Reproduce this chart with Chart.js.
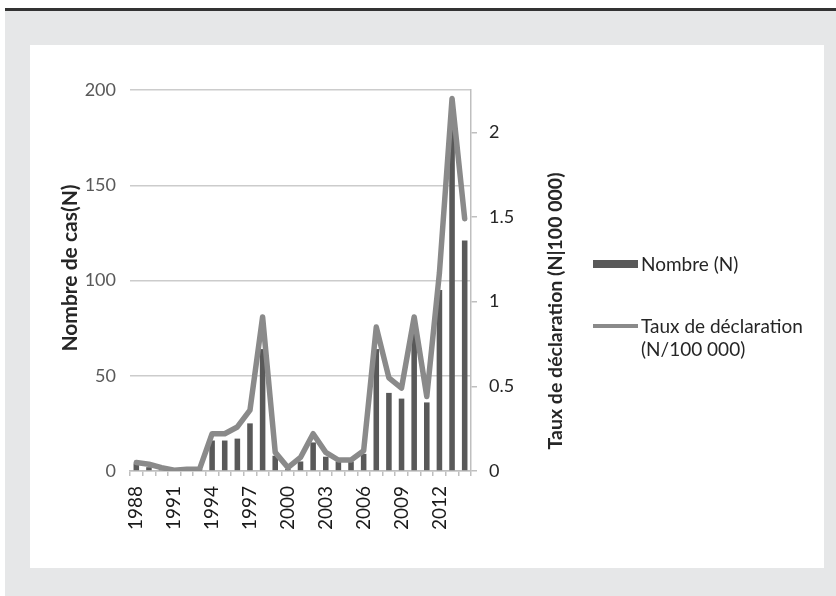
<!DOCTYPE html>
<html>
<head>
<meta charset="utf-8">
<script src="https://cdn.jsdelivr.net/npm/chart.js@4"></script>
<style>
  body { margin: 0; width: 836px; height: 596px; background: #fff; position: relative; overflow: hidden; font-family: Lato, sans-serif; }
  #topline { position: absolute; left: 5px; top: 8px; width: 831px; height: 3px; background: #333; }
  #frame { position: absolute; left: 5px; top: 11px; width: 831px; height: 585px; background: #e6e7e8; }
  #panel { position: absolute; left: 30px; top: 45px; width: 794px; height: 523px; background: #fff; }
  #legend { position: absolute; left: 593px; top: 250px; font-size: 19px; color: #262626; line-height: 23px; }
  .item { position: absolute; left: 0; white-space: nowrap; }
  .sw { position: absolute; left: 0; width: 45px; }
  .txt { position: absolute; left: 48px; }
</style>
</head>
<body>
<div id="topline"></div>
<div id="frame"></div>
<div id="panel"><canvas id="casChart" width="794" height="523"></canvas></div>
<div id="legend"></div>
<script>
// données
const years = ['1988','1989','1990','1991','1992','1993','1994','1995','1996','1997','1998','1999','2000',
  '2001','2002','2003','2004','2005','2006','2007','2008','2009','2010','2011','2012','2013','2014'];
const cases = [4, 2, 1, 0, 1, 1, 16, 16, 17, 25, 64, 8, 1,
  5, 15, 7.5, 5, 5, 9, 64, 41, 38, 72, 36, 95, 180, 121];
const rates = [0.05, 0.04, 0.02, 0.005, 0.01, 0.01, 0.22, 0.22, 0.26, 0.36, 0.91, 0.11, 0.02,
  0.08, 0.22, 0.11, 0.065, 0.065, 0.12, 0.85, 0.55, 0.49, 0.91, 0.44, 1.17, 2.2, 1.49];
const leftTicks = [0, 50, 100, 150, 200];
const rightTicks = [0, 0.5, 1, 1.5, 2];

const barLabel = 'Nombre (N)';
const lineLabel = ['Taux de déclaration', '(N/100 000)'];
const leftTitle = 'Nombre de cas(N)';
const rightTitle = 'Taux de déclaration (N|100 000)';

const barColor = '#595959';
const lineColor = '#8a8a8a';

// titres des axes (le titre de droite se lit de bas en haut)
const axisTitles = {
  id: 'axisTitles',
  afterDraw(chart) {
    const { ctx, chartArea } = chart;
    const draw = (text, size, x, y) => {
      ctx.save();
      ctx.font = 'bold ' + size + 'px Lato';
      ctx.fillStyle = '#262626';
      ctx.textAlign = 'center';
      ctx.textBaseline = 'middle';
      ctx.translate(x, y);
      ctx.rotate(-Math.PI / 2);
      ctx.fillText(text, 0, 0);
      ctx.restore();
    };
    draw(leftTitle, 21, 40, chartArea.top + 178);
    draw(rightTitle, 19.5, chartArea.right + 85, chartArea.top + 221);
  }
};

let casChart = null;
function createChart() {
  const ctx = document.getElementById('casChart');
  if (casChart) casChart.destroy();
  casChart = new Chart(ctx, {
    type: 'bar',
    data: {
      labels: years,
      datasets: [{
        type: 'line',
        label: lineLabel.join(' '),
        data: rates,
        yAxisID: 'y2',
        borderColor: lineColor,
        borderWidth: 5.5,
        pointRadius: 0,
        tension: 0,
        borderJoinStyle: 'round',
        borderCapStyle: 'round',
        order: 0
      }, {
        type: 'bar',
        label: barLabel,
        data: cases,
        yAxisID: 'y',
        backgroundColor: barColor,
        categoryPercentage: 1,
        barPercentage: 0.44,
        order: 1
      }]
    },
    options: {
      responsive: false,
      animation: false,
      layout: { padding: { left: 0, top: 45, right: 254, bottom: 27 } },
      plugins: { legend: { display: false }, tooltip: { enabled: false } },
      scales: {
        x: {
          offset: true,
          grid: { offset: true, drawOnChartArea: false, drawTicks: true, tickLength: 5, color: '#bfbfbf', lineWidth: 1.5 },
          border: { display: true, color: '#bfbfbf', width: 1.5 },
          ticks: {
            autoSkip: false, minRotation: 90, maxRotation: 90, padding: 10,
            color: '#1a1a1a', font: { family: 'Lato', size: 19 },
            callback: function (v, i) { return i % 3 === 0 ? this.getLabelForValue(v) : ''; }
          },
          afterFit: (s) => { s.height = 70; }
        },
        y: {
          position: 'left',
          min: 0, max: 200,
          afterBuildTicks: (s) => { s.ticks = leftTicks.map(v => ({ value: v })); },
          grid: { color: '#cccccc', lineWidth: 1.5, drawTicks: false },
          border: { display: false },
          ticks: { padding: 14, color: '#595959', font: { family: 'Lato', size: 18 } },
          afterFit: (s) => { s.width = 100; }
        },
        y2: {
          position: 'right',
          min: 0, max: 2.25,
          afterBuildTicks: (s) => { s.ticks = rightTicks.map(v => ({ value: v })); },
          grid: { drawOnChartArea: false, drawTicks: true, tickLength: 6, color: '#bfbfbf', lineWidth: 1.5 },
          border: { display: true, color: '#bfbfbf', width: 1.5 },
          ticks: {
            padding: 12, color: '#262626', font: { family: 'Lato', size: 18 },
            callback: (v) => String(v)
          },
          afterFit: (s) => { s.width = 99; }
        }
      }
    },
    plugins: [axisTitles]
  });
}

function buildLegend() {
  const lg = document.getElementById('legend');
  lg.innerHTML =
    '<div class="item" style="top:0"><div class="sw" style="top:10px;height:8px;background:' + barColor + '"></div>' +
    '<div class="txt" style="top:2px">' + barLabel + '</div></div>' +
    '<div class="item" style="top:62px"><div class="sw" style="top:12px;height:4px;background:' + lineColor + '"></div>' +
    '<div class="txt" style="top:2px">' + lineLabel[0] + '<br>' + lineLabel[1] + '</div></div>';
}

createChart();
buildLegend();
</script>
</body>
</html>
